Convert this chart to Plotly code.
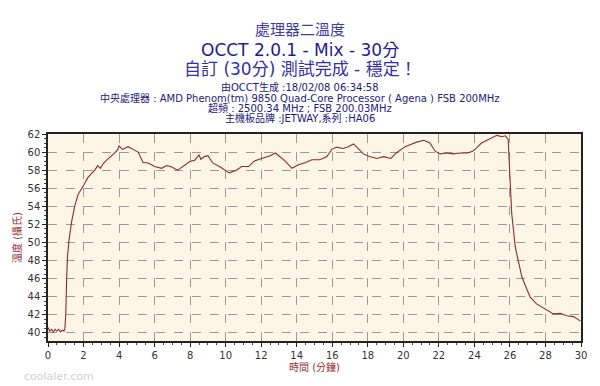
import plotly.graph_objects as go

# ---- data ----
time_min = [0.0, 0.1, 0.2, 0.3, 0.4, 0.5, 0.6, 0.7, 0.8, 0.9, 0.95, 1.0, 1.05, 1.1, 1.18, 1.32, 1.5,
            1.69, 2.0, 2.25, 2.63, 2.8, 2.95, 3.1, 3.3, 3.48, 3.7, 3.94, 3.98, 4.2, 4.5, 4.8, 5.07,
            5.35, 5.64, 6.0, 6.4, 6.67, 6.9, 7.3, 7.6, 7.98, 8.26, 8.5, 8.6, 8.8, 9.0, 9.27, 9.65,
            9.9, 10.2, 10.6, 10.9, 11.3, 11.6, 11.9, 12.2, 12.5, 12.8, 13.0, 13.35, 13.73, 14.1,
            14.5, 14.85, 15.3, 15.7, 15.97, 16.25, 16.6, 16.9, 17.2, 17.47, 17.75, 18.1, 18.5,
            18.9, 19.3, 19.6, 19.9, 20.1, 20.37, 20.75, 21.15, 21.5, 21.79, 22.07, 22.4, 22.8,
            23.2, 23.6, 23.9, 24.1, 24.4, 24.7, 25.0, 25.26, 25.55, 25.75, 25.9, 26.0, 26.1, 26.3,
            26.48, 26.67, 26.9, 27.14, 27.5, 27.98, 28.45, 28.83, 29.2, 29.58, 29.97]
temp_c = [40.6, 40.2, 40.4, 40.1, 40.4, 40.2, 40.4, 40.1, 40.3, 40.2, 40.5, 42.0, 46.0, 48.5, 50.2,
          52.2, 54.0, 55.3, 56.3, 57.2, 58.0, 58.5, 58.2, 58.7, 59.1, 59.4, 59.8, 60.3, 60.7, 60.3,
          60.6, 60.3, 60.0, 58.85, 58.8, 58.4, 58.2, 58.5, 58.4, 58.0, 58.4, 58.96, 59.1, 59.7,
          59.2, 59.5, 59.6, 58.8, 58.4, 58.1, 57.7, 58.0, 58.4, 58.4, 59.0, 59.2, 59.4, 59.6, 59.9,
          59.6, 59.0, 58.2, 58.6, 58.85, 59.15, 59.15, 59.5, 60.3, 60.55, 60.4, 60.6, 60.9, 60.3,
          59.8, 59.5, 59.3, 59.5, 59.3, 59.9, 60.3, 60.6, 60.8, 61.1, 61.3, 61.0, 60.1, 59.8, 59.9,
          59.8, 59.9, 59.9, 60.1, 60.4, 61.0, 61.3, 61.55, 61.85, 61.7, 61.8, 61.4, 57.0, 53.2,
          49.5, 47.7, 46.2, 45.07, 43.95, 43.2, 42.67, 42.1, 42.15, 41.9, 41.8, 41.3]

x_ticks = list(range(0, 31, 2))
y_ticks = list(range(40, 63, 2))

title_lines = ["處理器二溫度", "OCCT 2.0.1 - Mix - 30分", "自訂 (30分) 測試完成 - 穩定！"]
info_lines = ["由OCCT生成 :18/02/08 06:34:58",
              "中央處理器 : AMD Phenom(tm) 9850 Quad-Core Processor ( Agena ) FSB 200MHz",
              "超頻 : 2500.34 MHz ; FSB 200.03MHz",
              "主機板品牌 :JETWAY,系列 :HA06"]

FONT = "Verdana, 'DejaVu Sans', 'Noto Sans CJK TC', sans-serif"

fig = go.Figure()
fig.add_trace(go.Scatter(x=time_min, y=temp_c, mode="lines",
                         line=dict(color="#8e2c2c", width=1.1), hoverinfo="skip"))

W, H = 600, 386
L, R, T, B = 48, 19, 134, 45

def py(y):
    # pixel y -> paper coordinate
    return (H - B - y) / (H - T - B)

def px(x):
    return (x - L) / (W - L - R)

annotations = []
title_specs = [(title_lines[0], 30, 15, "#3c3ca8"),
               (title_lines[1], 50, 17, "#1c1c9c"),
               (title_lines[2], 69, 17, "#3030b0")]
for txt, yy, sz, col in title_specs:
    annotations.append(dict(text=txt, x=px(300), y=py(yy), xref="paper", yref="paper",
                            showarrow=False, xanchor="center", yanchor="middle",
                            font=dict(family=FONT, size=sz, color=col)))
for txt, yy in zip(info_lines, [87, 98, 108, 118]):
    annotations.append(dict(text=txt, x=px(300), y=py(yy), xref="paper", yref="paper",
                            showarrow=False, xanchor="center", yanchor="middle",
                            font=dict(family=FONT, size=10, color="#1a1a80")))
annotations.append(dict(text="coolaler.com", x=px(22), y=py(376), xref="paper", yref="paper",
                        showarrow=False, xanchor="left", yanchor="middle",
                        font=dict(family=FONT, size=11, color="#d0d0d0")))

fig.update_layout(
    width=W, height=H,
    margin=dict(l=L, r=R, t=T, b=B),
    paper_bgcolor="white",
    plot_bgcolor="#fdf5e6",
    showlegend=False,
    annotations=annotations,
    font=dict(family=FONT, size=10, color="#333333"),
)
fig.update_xaxes(
    range=[0, 30], tickvals=x_ticks, ticktext=[str(v) for v in x_ticks],
    showgrid=True, gridcolor="#9a9a9a", griddash="dash", gridwidth=1,
    showline=True, linecolor="#222222", linewidth=1.5, mirror=True,
    ticks="outside", ticklen=4, tickcolor="#222222",
    minor=dict(dtick=0.5, ticks="outside", ticklen=2, tickcolor="#444444", showgrid=False),
    tickfont=dict(size=10, color="#333333"),
    title=dict(text="時間 (分鐘)", font=dict(size=10, color="#993333"), standoff=0),
    zeroline=False,
)
fig.update_yaxes(
    range=[39.1, 62], tickvals=y_ticks, ticktext=[str(v) for v in y_ticks],
    showgrid=True, gridcolor="#9a9a9a", griddash="dash", gridwidth=1,
    showline=True, linecolor="#222222", linewidth=1.5, mirror=True,
    ticks="outside", ticklen=4, tickcolor="#222222",
    minor=dict(dtick=0.5, ticks="outside", ticklen=2, tickcolor="#444444", showgrid=False),
    tickfont=dict(size=10, color="#333333"),
    title=dict(text="溫度 (攝氏)", font=dict(size=10, color="#993333"), standoff=4),
    zeroline=False,
)

fig.write_html("out.html", config={"displayModeBar": False},
               post_script="document.body.style.margin='0';")
